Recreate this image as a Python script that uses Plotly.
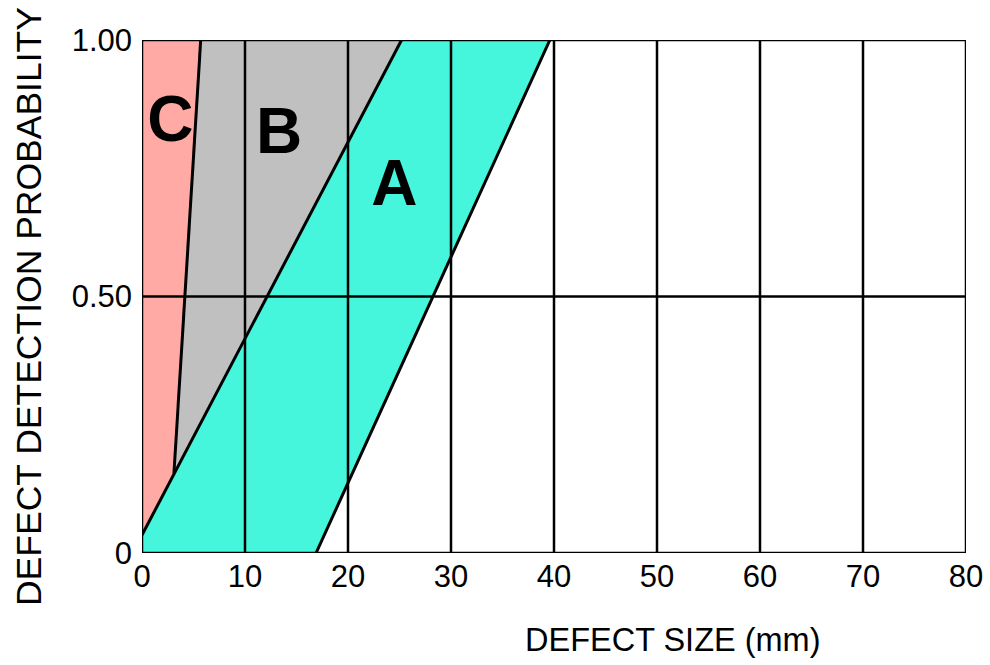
import plotly.graph_objects as go

# Region polygons (defect size mm, detection probability)
region_C_x = [0, 5.7, 3.1, 0, 0]
region_C_y = [1.0, 1.0, 0.155, 0.035, 1.0]
region_B_x = [5.7, 25.2, 3.1, 5.7]
region_B_y = [1.0, 1.0, 0.155, 1.0]
region_A_x = [0, 16.9, 39.6, 25.2, 0, 0]
region_A_y = [0, 0, 1.0, 1.0, 0.035, 0]

# Boundary lines
line_CB_x = [5.7, 3.1]
line_CB_y = [1.0, 0.155]
line_BA_x = [0, 25.2]
line_BA_y = [0.035, 1.0]
line_A_x = [16.9, 39.6]
line_A_y = [0, 1.0]

x_ticks = [0, 10, 20, 30, 40, 50, 60, 70, 80]
y_ticks = [0, 0.5, 1.0]
y_ticktext = ["0", "0.50", "1.00"]

labels = ["C", "B", "A"]
label_x = [2.75, 13.3, 24.5]
label_y = [0.835, 0.81, 0.71]

fig = go.Figure()
for xs, ys, col in [(region_C_x, region_C_y, "#FFAAA5"),
                    (region_B_x, region_B_y, "#C0C0C0"),
                    (region_A_x, region_A_y, "#45F6DC")]:
    fig.add_trace(go.Scatter(x=xs, y=ys, fill="toself", fillcolor=col, mode="none",
                             hoverinfo="skip", showlegend=False))
for xs, ys in [(line_CB_x, line_CB_y), (line_BA_x, line_BA_y), (line_A_x, line_A_y)]:
    fig.add_trace(go.Scatter(x=xs, y=ys, mode="lines", line=dict(color="black", width=3),
                             hoverinfo="skip", showlegend=False))

fig.add_trace(go.Scatter(x=label_x, y=label_y, text=labels, mode="text",
                         textfont=dict(family="Liberation Sans", size=64, color="black",
                                       weight="bold"),
                         hoverinfo="skip", showlegend=False))

# Grid lines drawn above fills
for xv in x_ticks:
    fig.add_shape(type="line", x0=xv, x1=xv, y0=0, y1=1, xref="x", yref="y",
                  line=dict(color="black", width=2.5), layer="above")
for yv in y_ticks:
    fig.add_shape(type="line", x0=0, x1=80, y0=yv, y1=yv, xref="x", yref="y",
                  line=dict(color="black", width=2.5), layer="above")

fig.update_xaxes(range=[0, 80], tickvals=x_ticks, showgrid=False, zeroline=False,
                 showline=False, ticks="", ticklabelstandoff=2, automargin=False,
                 tickfont=dict(family="Liberation Sans", size=31, color="black"))
fig.update_yaxes(range=[0, 1], tickvals=y_ticks, ticktext=y_ticktext, showgrid=False,
                 zeroline=False, showline=False, ticks="", ticklabelstandoff=9,
                 automargin=False,
                 tickfont=dict(family="Liberation Sans", size=31, color="black"))

fig.add_annotation(text="DEFECT SIZE (mm)", xref="paper", yref="paper", x=0.644, y=-0.17,
                   xanchor="center", yanchor="middle", showarrow=False,
                   font=dict(family="Liberation Sans", size=32.5, color="black"))
fig.add_annotation(text="DEFECT DETECTION PROBABILITY", xref="paper", yref="paper",
                   x=-0.138, y=0.48, xanchor="center", yanchor="middle", textangle=-90,
                   showarrow=False, font=dict(family="Liberation Sans", size=35.5, color="black"))

fig.update_layout(width=990, height=665, margin=dict(l=142, r=24, t=40, b=112),
                  plot_bgcolor="white", paper_bgcolor="white")

fig.write_html("out.html")
